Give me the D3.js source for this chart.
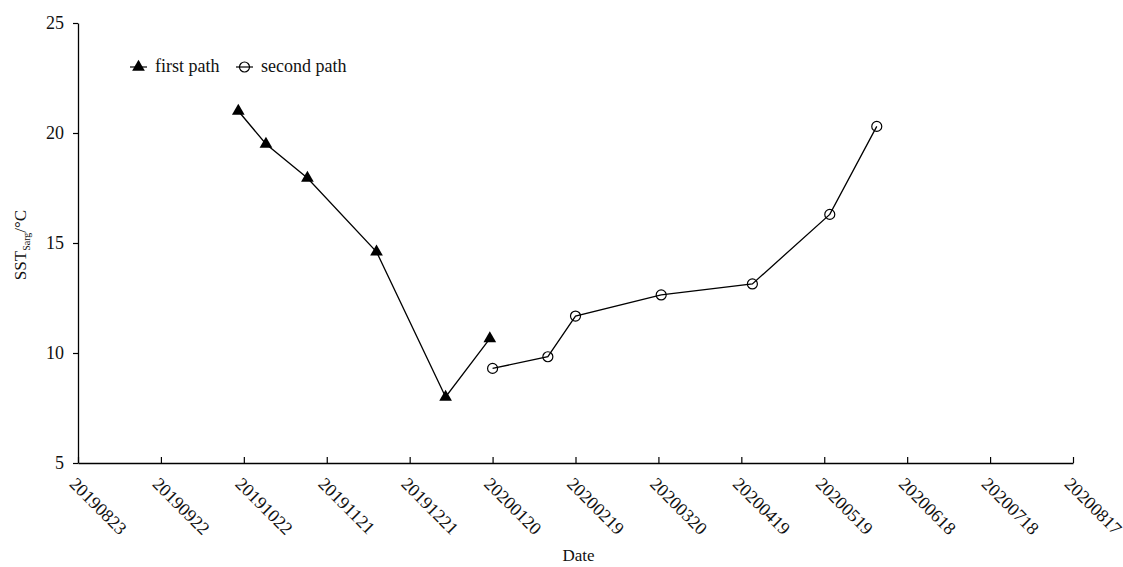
<!DOCTYPE html>
<html>
<head>
<meta charset="utf-8">
<script src="https://d3js.org/d3.v7.min.js"></script>
<style>
body { margin: 0; background: white; }
text { font-family: "Liberation Serif", "Times New Roman", serif; fill: #111; }
</style>
</head>
<body>
<script>
// data
var firstDates = ["2019-10-20", "2019-10-30", "2019-11-14", "2019-12-09", "2020-01-03", "2020-01-19"];
var firstSST   = [21.0, 19.5, 17.95, 14.6, 8.0, 10.65];
var secondDates = ["2020-01-20", "2020-02-09", "2020-02-19", "2020-03-21", "2020-04-23", "2020-05-21", "2020-06-07"];
var secondSST   = [9.3, 9.83, 11.68, 12.64, 13.14, 16.3, 20.3];
var yTicks = [5, 10, 15, 20, 25];
var xTickLabels = ["20190823","20190922","20191022","20191121","20191221","20200120",
                   "20200219","20200320","20200419","20200519","20200618","20200718","20200817"];

var width = 1123, height = 567;
var mLeft = 78, mRight = 1073, mTop = 23, mBottom = 463;

var parse = d3.timeParse("%Y-%m-%d");
var fmt = d3.timeFormat("%Y%m%d");
var tickDates = xTickLabels.map(function(s){ return d3.timeParse("%Y%m%d")(s); });

var x = d3.scaleTime().domain([tickDates[0], tickDates[tickDates.length-1]]).range([mLeft, mRight]);
var y = d3.scaleLinear().domain([5, 25]).range([mBottom, mTop]);

var svg = d3.select("body").append("svg").attr("width", width).attr("height", height);

// x axis, ticks point up into the plot
var xAxis = svg.append("g").attr("transform", "translate(0," + mBottom + ")")
  .call(d3.axisBottom(x).tickValues(tickDates).tickSizeInner(-6).tickSizeOuter(0).tickFormat(fmt));
xAxis.select(".domain").attr("stroke", "#000").attr("stroke-width", 1.3);
xAxis.selectAll(".tick line").attr("stroke", "#000").attr("stroke-width", 1.2);
xAxis.selectAll(".tick text")
  .attr("font-size", 18)
  .attr("text-anchor", "start")
  .attr("y", 0).attr("dy", 0)
  .attr("transform", "translate(-10,22) rotate(45)");

// y axis
var yAxis = svg.append("g").attr("transform", "translate(" + mLeft + ",0)")
  .call(d3.axisLeft(y).tickValues(yTicks).tickSizeInner(5).tickSizeOuter(0).tickPadding(9));
yAxis.select(".domain").attr("stroke", "#000").attr("stroke-width", 1.3);
yAxis.selectAll(".tick line").attr("stroke", "#000").attr("stroke-width", 1.2);
yAxis.selectAll(".tick text").attr("font-size", 18);

// axis titles
svg.append("text").attr("x", (mLeft + mRight) / 2 + 3).attr("y", 561)
  .attr("text-anchor", "middle").attr("font-size", 17).text("Date");

var yt = svg.append("text").attr("transform", "translate(26," + ((mTop + mBottom) / 2 + 2) + ") rotate(-90)")
  .attr("text-anchor", "middle").attr("font-size", 17);
yt.append("tspan").text("SST");
yt.append("tspan").attr("font-size", 10).attr("dy", 4).text("Sarg");
yt.append("tspan").attr("dy", -4).text("/°C");

var line = d3.line().x(function(d){ return x(d.date); }).y(function(d){ return y(d.v); });

var first = firstDates.map(function(d, i){ return {date: parse(d), v: firstSST[i]}; });
var second = secondDates.map(function(d, i){ return {date: parse(d), v: secondSST[i]}; });

var tri = d3.symbol().type(d3.symbolTriangle).size(70);

svg.append("path").datum(first).attr("d", line)
  .attr("fill", "none").attr("stroke", "#000").attr("stroke-width", 1.3);
svg.append("path").datum(second).attr("d", line)
  .attr("fill", "none").attr("stroke", "#000").attr("stroke-width", 1.3);

svg.selectAll(".tri").data(first).enter().append("path")
  .attr("class", "tri")
  .attr("d", tri)
  .attr("transform", function(d){ return "translate(" + x(d.date) + "," + y(d.v) + ")"; })
  .attr("fill", "#000");

svg.selectAll(".circ").data(second).enter().append("circle")
  .attr("class", "circ")
  .attr("cx", function(d){ return x(d.date); })
  .attr("cy", function(d){ return y(d.v); })
  .attr("r", 5)
  .attr("fill", "none").attr("stroke", "#000").attr("stroke-width", 1.2);

// legend
var lg = svg.append("g").attr("transform", "translate(130,67)");
lg.append("line").attr("x1", 0).attr("x2", 17).attr("y1", 0).attr("y2", 0).attr("stroke", "#000").attr("stroke-width", 1.2);
lg.append("path").attr("d", tri).attr("transform", "translate(8.5,0)").attr("fill", "#000");
lg.append("text").attr("x", 25).attr("y", 5).attr("font-size", 18).text("first path");
lg.append("line").attr("x1", 106).attr("x2", 123).attr("y1", 0).attr("y2", 0).attr("stroke", "#000").attr("stroke-width", 1.2);
lg.append("circle").attr("cx", 114.5).attr("cy", 0).attr("r", 5).attr("fill", "none").attr("stroke", "#000").attr("stroke-width", 1.2);
lg.append("text").attr("x", 131).attr("y", 5).attr("font-size", 18).text("second path");
</script>
</body>
</html>
